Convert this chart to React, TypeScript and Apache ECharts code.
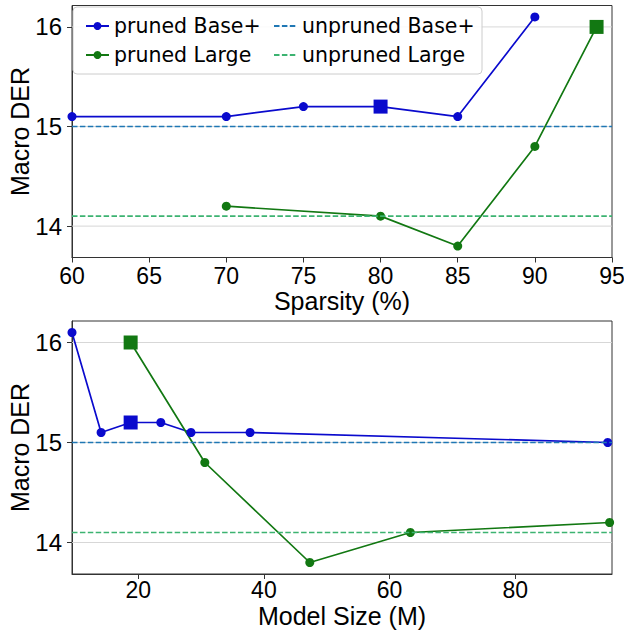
import React, { useEffect, useRef } from "react";
import * as echarts from "echarts";

// ---- data ----
const sparsityBase = [60, 70, 75, 80, 85, 90];
const derSparsityBase = [15.1, 15.1, 15.2, 15.2, 15.1, 16.1];
const sparsityLarge = [70, 80, 85, 90, 94];
const derSparsityLarge = [14.2, 14.1, 13.8, 14.8, 16.0];

const sizeBase = [9.47, 14.1, 18.8, 23.6, 28.4, 37.8, 94.7];
const derSizeBase = [16.1, 15.1, 15.2, 15.2, 15.1, 15.1, 15.0];
const sizeLarge = [18.8, 30.6, 47.3, 63.3, 95.0];
const derSizeLarge = [16.0, 14.8, 13.8, 14.1, 14.2];

const unprunedBase = 15.0;
const unprunedLarge = 14.1;

// index of highlighted (square) point in each series
const squareSparsityBase = 3;
const squareSparsityLarge = 4;
const squareSizeBase = 2;
const squareSizeLarge = 0;

const derTicks = [14, 15, 16];
const sizeTicks = [20, 40, 60, 80];

const sparsityRange = [60, 95];
const sizeRange = [9.47, 95.38];
const derRange = [13.685, 16.215];

// ---- styles ----
const BLUE = "#0a0acd";
const GREEN = "#127812";
const UNP_BASE = "#1f77b4";
const UNP_LARGE = "#3cb371";
const AXIS = "#333333";
const TICK_FONT = "Liberation Sans";
const LEG_FONT = "DejaVu Sans";

function pts(xs: number[], ys: number[], sq: number) {
  return xs.map((x, i) =>
    i === sq ? { value: [x, ys[i]], symbol: "rect", symbolSize: 14 } : [x, ys[i]]
  );
}

function prunedSeries(name: string, color: string, data: any[], idx: number) {
  return {
    name,
    type: "line",
    xAxisIndex: idx,
    yAxisIndex: idx,
    data,
    symbol: "circle",
    symbolSize: 9,
    lineStyle: { color, width: 1.7 },
    itemStyle: { color },
    z: 3,
  };
}

function unprunedSeries(name: string, color: string, y: number, range: number[], idx: number) {
  return {
    name,
    type: "line",
    xAxisIndex: idx,
    yAxisIndex: idx,
    data: [
      [range[0], y],
      [range[1], y],
    ],
    symbol: "none",
    lineStyle: { color, width: 1.6, type: [5.5, 2.4] },
    itemStyle: { color },
    z: 4,
  };
}

function gridLineSeries(idx: number, range: number[]) {
  return derTicks.map((v) => ({
    type: "line",
    xAxisIndex: idx,
    yAxisIndex: idx,
    data: [
      [range[0], v],
      [range[1], v],
    ],
    symbol: "none",
    silent: true,
    z: 1,
    lineStyle: { color: "#d3d3d3", width: 0.9, type: "solid" },
  }));
}

function xAxis(idx: number, range: number[], name: string, gap: number, extra: any) {
  return {
    type: "value",
    gridIndex: idx,
    min: range[0],
    max: range[1],
    name,
    nameLocation: "middle",
    nameGap: gap,
    nameMoveOverlap: false,
    nameTextStyle: { fontFamily: TICK_FONT, fontSize: 25, color: "#000", lineHeight: 25 },
    axisLine: { show: true, onZero: false, lineStyle: { color: AXIS, width: 1 } },
    axisTick: { show: true, length: 5, lineStyle: { color: AXIS }, ...(extra.tick || {}) },
    axisLabel: {
      fontFamily: TICK_FONT,
      fontSize: 23,
      lineHeight: 22,
      color: "#000",
      margin: 7,
      ...(extra.label || {}),
    },
    splitLine: { show: false },
    ...(extra.axis || {}),
  };
}

function yAxis(idx: number) {
  return {
    type: "value",
    gridIndex: idx,
    min: derRange[0],
    max: derRange[1],
    name: "Macro DER",
    nameLocation: "middle",
    nameGap: 40,
    nameMoveOverlap: false,
    nameTextStyle: { fontFamily: TICK_FONT, fontSize: 25, color: "#000" },
    axisLine: { show: true, onZero: false, lineStyle: { color: AXIS, width: 1 } },
    axisTick: { show: true, length: 5, lineStyle: { color: AXIS }, customValues: derTicks },
    axisLabel: {
      fontFamily: TICK_FONT,
      fontSize: 24,
      color: "#000",
      margin: 10,
      customValues: derTicks,
    },
    splitLine: { show: false },
  };
}

const hiddenSymbol = { color: "rgba(0,0,0,0)", borderWidth: 0 };

export default function App() {
  const ref = useRef<HTMLDivElement>(null);
  useEffect(() => {
    if (!ref.current) return;
    const chart = echarts.init(ref.current, null, { renderer: "svg" });
    const legendBase = {
      orient: "vertical",
      top: 10,
      itemWidth: 23,
      itemHeight: 10,
      itemGap: 7,
      selectedMode: false,
      z: 10,
      textStyle: { fontFamily: LEG_FONT, fontSize: 20.5, color: "#000", lineHeight: 22 },
    };
    const option: any = {
      animation: false,
      backgroundColor: "#ffffff",
      grid: [
        {
          left: 72,
          top: 5.5,
          width: 540,
          height: 252,
          show: true,
          borderColor: AXIS,
          borderWidth: 1,
          backgroundColor: "transparent",
          containLabel: false,
          outerBoundsMode: "none",
        },
        {
          left: 72,
          top: 321,
          width: 540,
          height: 253,
          show: true,
          borderColor: AXIS,
          borderWidth: 1,
          backgroundColor: "transparent",
          containLabel: false,
          outerBoundsMode: "none",
        },
      ],
      xAxis: [
        xAxis(0, sparsityRange, "Sparsity (%)", 31, { axis: { interval: 5 } }),
        xAxis(1, sizeRange, "Model Size (M)", 29, {
          tick: { customValues: sizeTicks },
          label: { customValues: sizeTicks, margin: 6, lineHeight: 20 },
        }),
      ],
      yAxis: [yAxis(0), yAxis(1)],
      legend: [
        {
          ...legendBase,
          left: 80,
          data: ["pruned Base+", "pruned Large"],
        },
        {
          ...legendBase,
          left: 268,
          data: [
            { name: "unpruned Base+", itemStyle: hiddenSymbol },
            { name: "unpruned Large", itemStyle: hiddenSymbol },
          ],
        },
      ],
      graphic: [
        {
          type: "rect",
          z: 8,
          shape: { x: 73, y: 7, width: 409, height: 67, r: 4 },
          style: { fill: "rgba(255,255,255,0.85)", stroke: "#cccccc", lineWidth: 1 },
          silent: true,
        },
      ],
      series: [
        ...gridLineSeries(0, sparsityRange),
        ...gridLineSeries(1, sizeRange),
        prunedSeries("pruned Base+", BLUE, pts(sparsityBase, derSparsityBase, squareSparsityBase), 0),
        prunedSeries("pruned Large", GREEN, pts(sparsityLarge, derSparsityLarge, squareSparsityLarge), 0),
        unprunedSeries("unpruned Base+", UNP_BASE, unprunedBase, sparsityRange, 0),
        unprunedSeries("unpruned Large", UNP_LARGE, unprunedLarge, sparsityRange, 0),
        prunedSeries("pruned Base+", BLUE, pts(sizeBase, derSizeBase, squareSizeBase), 1),
        prunedSeries("pruned Large", GREEN, pts(sizeLarge, derSizeLarge, squareSizeLarge), 1),
        unprunedSeries("unpruned Base+", UNP_BASE, unprunedBase, sizeRange, 1),
        unprunedSeries("unpruned Large", UNP_LARGE, unprunedLarge, sizeRange, 1),
      ],
    };
    chart.setOption(option);
    return () => chart.dispose();
  }, []);
  return (
    <div
      ref={ref}
      style={{ position: "fixed", left: 0, top: 0, width: 624, height: 630, background: "#fff" }}
    />
  );
}
